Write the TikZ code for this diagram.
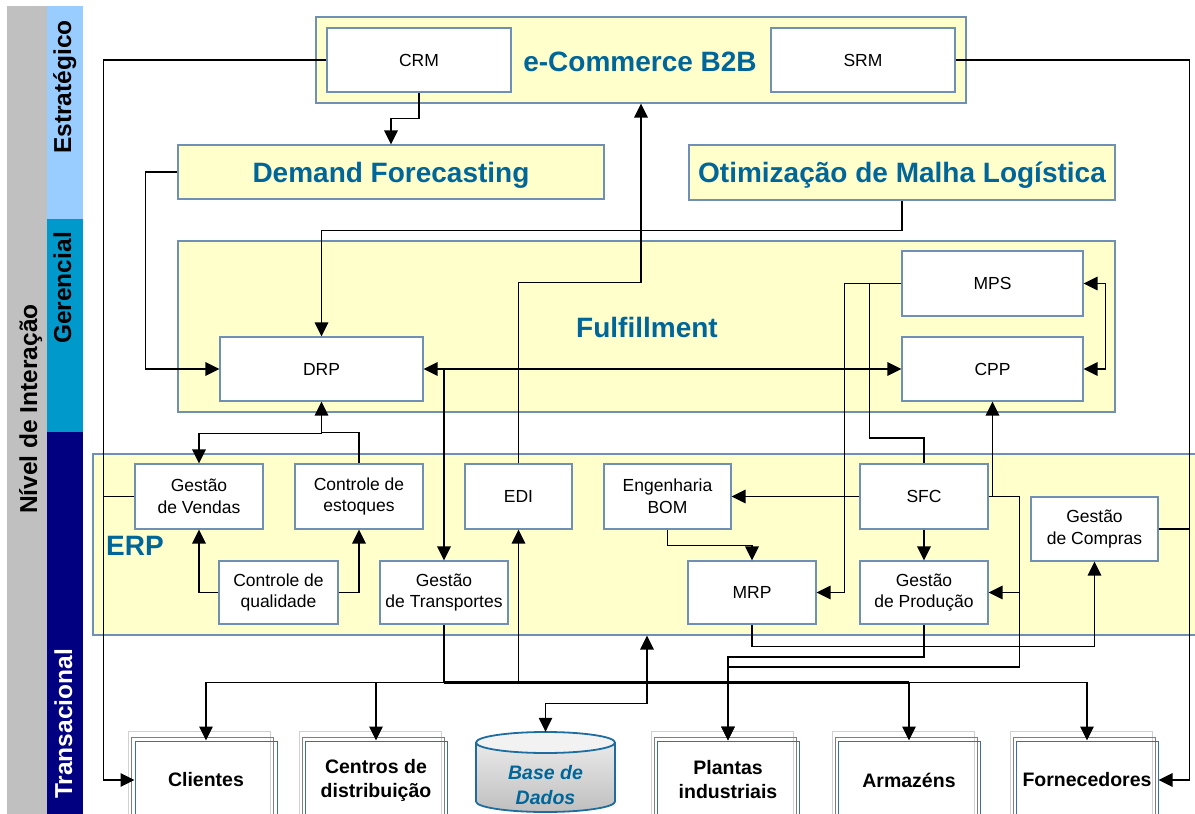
\documentclass[tikz,border=0pt]{standalone}
\usepackage{fontspec}
\setmainfont{Liberation Sans}
\usetikzlibrary{arrows.meta,calc}

\definecolor{panelfill}{HTML}{FFFFCC}
\definecolor{panelline}{HTML}{6F8FB5}
\definecolor{titleblue}{HTML}{006699}
\definecolor{bandgray}{HTML}{C0C0C0}
\definecolor{bandsky}{HTML}{99CCFF}
\definecolor{bandteal}{HTML}{0099CC}
\definecolor{bandnavy}{HTML}{000080}
\definecolor{stackback}{HTML}{D0D0D0}
\definecolor{stackmid}{HTML}{7F7F7F}
\definecolor{stackfront}{HTML}{3A6EA5}
\definecolor{dbline}{HTML}{1F6D9E}

\begin{document}
\begin{tikzpicture}[x=1pt,y=-1pt,
  panel/.style={draw=panelline, fill=panelfill, line width=1.1pt, inner sep=0pt},
  box/.style={draw=panelline, fill=white, line width=1.1pt, inner sep=0pt, align=center,
    font=\fontsize{17.5}{21.7}\selectfont},
  title/.style={text=titleblue, inner sep=0pt, font=\fontsize{28}{32}\selectfont\bfseries},
  band/.style={rotate=90, anchor=base, inner sep=0pt, font=\fontsize{24.5}{28}\selectfont\bfseries},
  leaf/.style={draw=stackfront, line width=1pt, inner sep=0pt, align=center,
    minimum width=142, minimum height=78, font=\fontsize{19.5}{24}\selectfont\bfseries},
  link/.style={line width=1.3pt, draw=black},
  arr/.style={link, -{Triangle[length=14pt,width=13.5pt]}},
  arr2/.style={link, {Triangle[length=14pt,width=13.5pt]}-{Triangle[length=14pt,width=13.5pt]}},
]
\useasboundingbox (0,0) rectangle (1195,814);
\clip (0,0) rectangle (1195,814);

% level bands on the left
\fill[bandgray] (7,6) rectangle (47,814);
\fill[bandsky]  (47,6) rectangle (83,219);
\fill[bandteal] (47,219) rectangle (83,432);
\fill[bandnavy] (47,432) rectangle (83,814);
\node[band] (lvl)   at (37,409) {Nível de Interação};
\node[band] (lvls)  at (71,87)  {Estratégico};
\node[band] (lvlg)  at (71,288) {Gerencial};
\node[band, text=white] (lvlt) at (72,724) {Transacional};

% strategic layer
\node[panel, minimum width=650, minimum height=86] (ecom) at (641,60) {};
\node[title, anchor=base] (ecomlabel) at (640,71) {e-Commerce B2B};
\node[box, minimum width=184, minimum height=64] (crm) at (419,60) {CRM};
\node[box, minimum width=184, minimum height=64] (srm) at (863,60) {SRM};

\node[panel, title, minimum width=426, minimum height=54, text height=20, text depth=0]
  (df) at (391,172) {Demand Forecasting};
\node[panel, title, minimum width=426, minimum height=55, text height=20, text depth=0]
  (oml) at (902,172.5) {Otimização de Malha Logística};

% fulfillment layer
\node[panel, minimum width=937, minimum height=171] (ful) at (646.5,326.5) {};
\node[title, anchor=base] (fullabel) at (647,337) {Fulfillment};
\node[box, minimum width=181, minimum height=65] (mps) at (992.5,283.5) {MPS};
\node[box, minimum width=181, minimum height=64] (cpp) at (992.5,369) {CPP};
\node[box, minimum width=203, minimum height=64] (drp) at (321.5,369) {DRP};

% ERP layer
\node[panel, minimum width=1108, minimum height=181] (erp) at (647,544.5) {};
\node[title, anchor=base] (erplabel) at (135,555) {ERP};
\node[box, minimum width=128, minimum height=65] (gv)  at (199,496.5)  {Gestão\\de Vendas};
\node[box, minimum width=128, minimum height=65] (ce)  at (359,496.5)  {Controle de\\estoques};
\node[box, minimum width=107, minimum height=65] (edi) at (518.5,496.5) {EDI};
\node[box, minimum width=127, minimum height=65] (bom) at (667.5,496.5) {Engenharia\\BOM};
\node[box, minimum width=128, minimum height=65] (sfc) at (924,496.5)  {SFC};
\node[box, minimum width=127, minimum height=64] (gc)  at (1094.5,529) {Gestão\\de Compras};
\node[box, minimum width=119, minimum height=63] (cq)  at (278.5,592.5) {Controle de\\qualidade};
\node[box, minimum width=128, minimum height=63] (gt)  at (444,592.5)  {Gestão\\de Transportes};
\node[box, minimum width=128, minimum height=63] (mrp) at (752,592.5)  {MRP};
\node[box, minimum width=128, minimum height=63] (gp)  at (924,592.5)  {Gestão\\de Produção};

% physical entities (stacked outlines)
\foreach \x in {128,299,651,832,1010} {
  \draw[stackback, line width=1pt] (\x,731) rectangle ++(142,100);
  \draw[stackmid, line width=1pt] (\x+3,737) rectangle ++(142,100);
}
\node[leaf] (cli)  at (206,780)  {Clientes};
\node[leaf] (cd)   at (376,780)  {Centros de\\distribuição};
\node[leaf] (pla)  at (728,780)  {Plantas\\industriais};
\node[leaf] (arm)  at (909,780)  {Armazéns};
\node[leaf] (forn) at (1087,780) {Fornecedores};

% database cylinder
\fill[top color=gray!12, bottom color=gray!50]
  (476,742.5) -- (476,801.5) arc[start angle=180, end angle=0, x radius=69.5, y radius=10.5]
  -- (615,742.5) arc[start angle=0, end angle=-180, x radius=69.5, y radius=10.5] -- cycle;
\draw[dbline, line width=1.8pt]
  (476,742.5) -- (476,801.5) arc[start angle=180, end angle=0, x radius=69.5, y radius=10.5]
  -- (615,742.5);
\filldraw[fill=gray!10, draw=dbline, line width=1.8pt] (545.5,742.5) ellipse[x radius=69.5, y radius=10.5];
\node[inner sep=0pt, minimum width=139, minimum height=107, align=center, text=titleblue,
  font=\fontsize{19.5}{25}\selectfont\bfseries\itshape] (db) at (545.5,785.5) {Base de\\Dados};

% connectors: strategic and management levels
\draw[arr] (crm.west) -- ++(-223,0) |- (cli.west);
\draw[link] (gv.west) -- ++(-31,0);
\draw[arr] (srm.east) -- ++(234,0) |- (forn.east);
\draw[link] (gc.east) -- ++(31,0);
\draw[arr] (crm.south) -- ++(0,26) -| (df.north);
\draw[arr] (df.west) -- ++(-32,0) |- (drp.west);
\draw[arr] (oml.south) -- ++(0,30) -| (drp.north);
\draw[arr] (edi.north) -- ++(0,-181) -| (ecom.south);
\draw[arr2] (drp.east) -- (cpp.west);
\draw[arr] (gt.north |- drp.east) -- (gt.north);
\draw[arr2] (mps.east) -- ++(22,0) |- (cpp.east);
\draw[arr] (mps.west) -- ++(-57,0) |- (mrp.east);
\draw[link] (mps.west) -- ++(-32,0) -- ++(0,154.5) -| (sfc.north);

% connectors: ERP level
\draw[arr] (ce.north) -- ++(0,-31) -| (drp.south);
\draw[arr] ($(drp.south)+(0,32)$) -| (gv.north);
\draw[arr] (cq.west) -| (gv.south);
\draw[arr] (cq.east) -| (ce.south);
\draw[arr] (bom.south) -- ++(0,16) -| (mrp.north);
\draw[arr] (sfc.west) -- (bom.east);
\draw[arr] (sfc.south) -- (gp.north);
\draw[arr] (cpp.south |- sfc.east) -- (cpp.south);
\draw[arr] (sfc.east) -- ++(31,0) -- ++(0,170.5) -| (pla.north);
\draw[arr] ($(gp.east)+(31,0)$) -- (gp.east);
\draw[arr] (gp.south) -- ++(0,32.5) -| (pla.north);
\draw[arr] (mrp.south) -- ++(0,22) -| (gc.south);

% connectors: transactional bus
\coordinate (hub) at ($(gt.south)+(0,58)$);
\draw[arr] (gt.south) -- (hub) -| (cli.north);
\draw[arr] (hub) -| (cd.north);
\draw[arr] (hub) -| (arm.north);
\draw[arr] (hub) -| (forn.north);
\draw[line width=2.2pt] (hub) -- (hub -| arm.north);
\draw[arr] (hub -| edi.south) -- (edi.south);
\draw[arr2] (db.north) -- ++(0,-28) -| (erp.south);
\end{tikzpicture}
\end{document}
